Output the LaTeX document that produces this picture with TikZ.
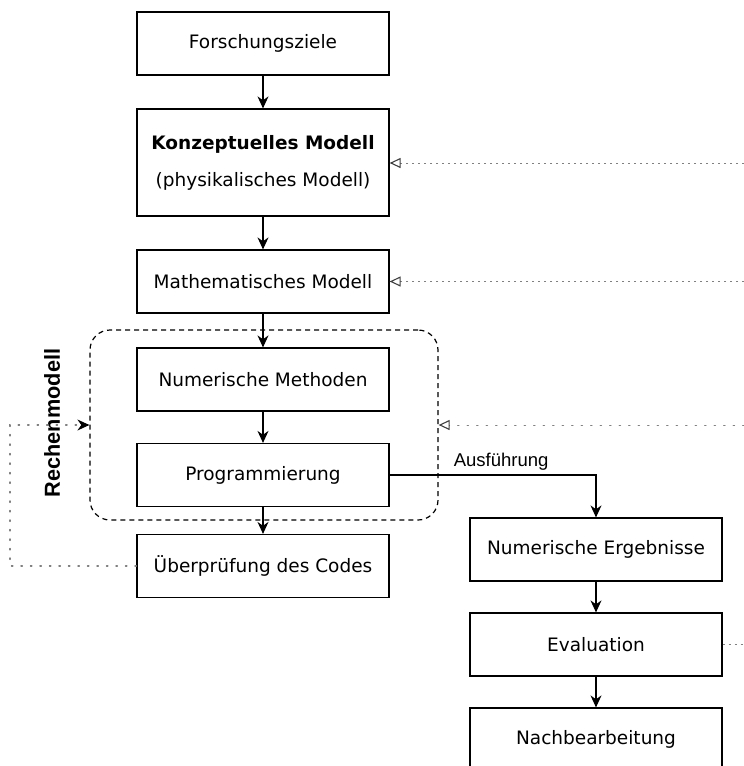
\documentclass[tikz,border=0pt]{standalone}
\usepackage{fontspec}
\setmainfont{DejaVu Sans}
\newfontfamily\helv{Liberation Sans}
\usetikzlibrary{arrows.meta}

\tikzset{
	box/.style={draw, line width=1.2pt, minimum width=252pt, minimum height=63pt, inner sep=0pt, align=center, font=\fontsize{18.5}{37}\selectfont},
	flow/.style={line width=1.2pt, -{Stealth[length=12pt, width=11pt]}},
	feedback/.style={line width=1pt, black!50, dash pattern=on 2.5pt off 3.5pt, -{Triangle[open, length=11pt, width=10pt, black!75, line width=1.1pt]}},
	sparse/.style={line width=1.2pt, black!50, dash pattern=on 1.5pt off 8pt, line cap=round},
}

\begin{document}
\begin{tikzpicture}[x=1pt, y=-1pt]
	\useasboundingbox (0,0) rectangle (744,766);

	\node[box] (fz) at (263,43.5) {Forschungsziele};
	\node[box, minimum height=107pt] (km) at (263,162.5) {\textbf{Konzeptuelles Modell}\\(physikalisches Modell)};
	\node[box] (mm) at (263,281.5) {Mathematisches Modell};
	\node[draw, line width=1.2pt, dash pattern=on 5pt off 4pt, rounded corners=20pt, minimum width=348pt, minimum height=190pt] (rm) at (264,425) {};
	\node[box] (nm) at (263,379.5) {Numerische Methoden};
	\node[box] (pg) at (263,475) {Programmierung};
	\node[box] (uc) at (263,566) {Überprüfung des Codes};
	\node[box] (ne) at (596,549.5) {Numerische Ergebnisse};
	\node[box] (ev) at (596,644.5) {Evaluation};
	\node[box] (nb) at (596,739.5) {Nachbearbeitung};
	\node[rotate=90, font=\helv\bfseries\fontsize{21.7}{26}\selectfont] (rml) at (52,423) {Rechenmodell};

	\draw[flow] (fz) -- (km);
	\draw[flow] (km) -- (mm);
	\draw[flow] (mm) -- (nm);
	\draw[flow] (nm) -- (pg);
	\draw[flow] (pg) -- (uc);
	\draw[flow] (pg.east) -| (ne.north) node[pos=0.27, above=1pt, font=\helv\fontsize{18.5}{22}\selectfont] (ausf) {Ausführung};
	\draw[flow] (ne) -- (ev);
	\draw[flow] (ev) -- (nb);

	\coordinate (r1) at (744,163);
	\coordinate (r2) at (744,281.5);
	\coordinate (r3) at (744,425);
	\coordinate (r4) at (744,644.5);
	\coordinate (lc) at (10,566);
	\draw[feedback] (r1) -- (km.east |- r1);
	\draw[feedback] (r2) -- (mm.east);
	\draw[feedback, dash pattern=on 1.5pt off 8pt, line cap=round] (r3) -- (rm.east);
	\draw[line width=1pt, black!50, dash pattern=on 2.5pt off 3.5pt] (ev.east) -- (r4);
	\draw[sparse] (uc.west) -- (lc) |- (rm.west);
	\draw[-{Stealth[length=12pt, width=11pt]}, line width=1.2pt] ([xshift=-2pt]rm.west) -- (rm.west);
\end{tikzpicture}
\end{document}
